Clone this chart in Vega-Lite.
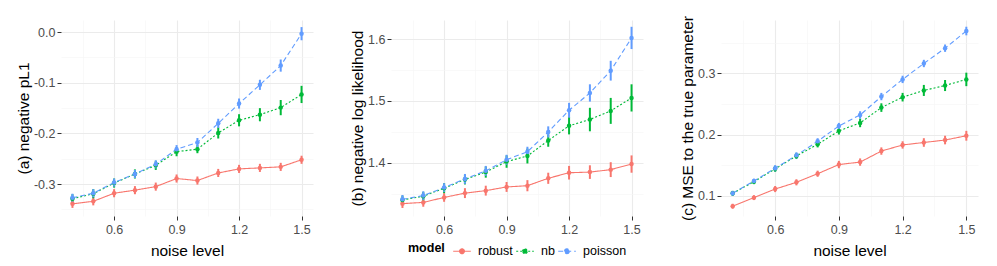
{
  "$schema": "https://vega.github.io/schema/vega-lite/v6.json",
  "padding": {"left": 16, "top": 15, "right": 5, "bottom": 0},
  "background": "white",
  "config": {
    "view": {"stroke": null},
    "font": "Liberation Sans",
    "axis": {
      "domain": false,
      "labelFont": "Liberation Sans",
      "labelFontSize": 12.5,
      "labelColor": "#4D4D4D",
      "titleFont": "Liberation Sans",
      "titleFontSize": 15.5,
      "titleFontWeight": "normal",
      "titleColor": "#000000",
      "tickColor": "#333333",
      "tickSize": 4,
      "tickWidth": 1,
      "labelPadding": 2,
      "titlePadding": 2,
      "labelOverlap": false,
      "labelFlush": false,
      "labelBound": false,
      "gridColor": {"condition": {"test": "abs(datum.value*10-round(datum.value*10))<0.01", "value": "#EBEBEB"}, "value": "#F5F5F5"},
      "gridWidth": {"condition": {"test": "abs(datum.value*10-round(datum.value*10))<0.01", "value": 1.1}, "value": 0.6},
      "tickOpacity": {"condition": {"test": "abs(datum.value*10-round(datum.value*10))<0.01", "value": 1}, "value": 0},
      "labelExpr": "abs(datum.value*10-round(datum.value*10))<0.01 ? (datum.value < -0.001 ? '-' : '') + format(abs(datum.value), '.1f') : ''"
    },
    "axisX": {"titlePadding": 8, "labelPadding": 3},
    "legend": {
      "labelFont": "Liberation Sans",
      "labelFontSize": 12.5,
      "labelColor": "#000000",
      "titleFont": "Liberation Sans",
      "titleFontSize": 12.5,
      "titleFontWeight": "bold",
      "titleColor": "#000000"
    }
  },
  "datasets": {
    "d": [
      {"panel":"a","noise":0.4,"model":"robust","y":-0.339,"lo":-0.347,"hi":-0.331},
      {"panel":"a","noise":0.5,"model":"robust","y":-0.334,"lo":-0.342,"hi":-0.326},
      {"panel":"a","noise":0.6,"model":"robust","y":-0.318,"lo":-0.326,"hi":-0.310},
      {"panel":"a","noise":0.7,"model":"robust","y":-0.312,"lo":-0.320,"hi":-0.304},
      {"panel":"a","noise":0.8,"model":"robust","y":-0.305,"lo":-0.313,"hi":-0.297},
      {"panel":"a","noise":0.9,"model":"robust","y":-0.289,"lo":-0.297,"hi":-0.281},
      {"panel":"a","noise":1.0,"model":"robust","y":-0.293,"lo":-0.301,"hi":-0.285},
      {"panel":"a","noise":1.1,"model":"robust","y":-0.278,"lo":-0.286,"hi":-0.270},
      {"panel":"a","noise":1.2,"model":"robust","y":-0.270,"lo":-0.278,"hi":-0.262},
      {"panel":"a","noise":1.3,"model":"robust","y":-0.268,"lo":-0.276,"hi":-0.260},
      {"panel":"a","noise":1.4,"model":"robust","y":-0.266,"lo":-0.274,"hi":-0.258},
      {"panel":"a","noise":1.5,"model":"robust","y":-0.252,"lo":-0.260,"hi":-0.244},
      {"panel":"a","noise":0.4,"model":"nb","y":-0.329,"lo":-0.338,"hi":-0.320},
      {"panel":"a","noise":0.5,"model":"nb","y":-0.319,"lo":-0.328,"hi":-0.310},
      {"panel":"a","noise":0.6,"model":"nb","y":-0.298,"lo":-0.307,"hi":-0.289},
      {"panel":"a","noise":0.7,"model":"nb","y":-0.280,"lo":-0.289,"hi":-0.271},
      {"panel":"a","noise":0.8,"model":"nb","y":-0.263,"lo":-0.272,"hi":-0.254},
      {"panel":"a","noise":0.9,"model":"nb","y":-0.236,"lo":-0.245,"hi":-0.227},
      {"panel":"a","noise":1.0,"model":"nb","y":-0.231,"lo":-0.239,"hi":-0.223},
      {"panel":"a","noise":1.1,"model":"nb","y":-0.199,"lo":-0.210,"hi":-0.188},
      {"panel":"a","noise":1.2,"model":"nb","y":-0.174,"lo":-0.186,"hi":-0.162},
      {"panel":"a","noise":1.3,"model":"nb","y":-0.163,"lo":-0.176,"hi":-0.150},
      {"panel":"a","noise":1.4,"model":"nb","y":-0.149,"lo":-0.164,"hi":-0.134},
      {"panel":"a","noise":1.5,"model":"nb","y":-0.123,"lo":-0.140,"hi":-0.106},
      {"panel":"a","noise":0.4,"model":"poisson","y":-0.327,"lo":-0.335,"hi":-0.319},
      {"panel":"a","noise":0.5,"model":"poisson","y":-0.318,"lo":-0.326,"hi":-0.310},
      {"panel":"a","noise":0.6,"model":"poisson","y":-0.297,"lo":-0.305,"hi":-0.289},
      {"panel":"a","noise":0.7,"model":"poisson","y":-0.280,"lo":-0.288,"hi":-0.272},
      {"panel":"a","noise":0.8,"model":"poisson","y":-0.261,"lo":-0.269,"hi":-0.253},
      {"panel":"a","noise":0.9,"model":"poisson","y":-0.231,"lo":-0.239,"hi":-0.223},
      {"panel":"a","noise":1.0,"model":"poisson","y":-0.218,"lo":-0.227,"hi":-0.209},
      {"panel":"a","noise":1.1,"model":"poisson","y":-0.180,"lo":-0.189,"hi":-0.171},
      {"panel":"a","noise":1.2,"model":"poisson","y":-0.141,"lo":-0.151,"hi":-0.131},
      {"panel":"a","noise":1.3,"model":"poisson","y":-0.104,"lo":-0.114,"hi":-0.094},
      {"panel":"a","noise":1.4,"model":"poisson","y":-0.066,"lo":-0.078,"hi":-0.054},
      {"panel":"a","noise":1.5,"model":"poisson","y":-0.003,"lo":-0.016,"hi":0.010},
      {"panel":"b","noise":0.4,"model":"robust","y":1.334,"lo":1.327,"hi":1.341},
      {"panel":"b","noise":0.5,"model":"robust","y":1.336,"lo":1.329,"hi":1.343},
      {"panel":"b","noise":0.6,"model":"robust","y":1.344,"lo":1.337,"hi":1.351},
      {"panel":"b","noise":0.7,"model":"robust","y":1.351,"lo":1.343,"hi":1.359},
      {"panel":"b","noise":0.8,"model":"robust","y":1.355,"lo":1.347,"hi":1.363},
      {"panel":"b","noise":0.9,"model":"robust","y":1.361,"lo":1.353,"hi":1.369},
      {"panel":"b","noise":1.0,"model":"robust","y":1.363,"lo":1.354,"hi":1.372},
      {"panel":"b","noise":1.1,"model":"robust","y":1.375,"lo":1.366,"hi":1.384},
      {"panel":"b","noise":1.2,"model":"robust","y":1.384,"lo":1.373,"hi":1.395},
      {"panel":"b","noise":1.3,"model":"robust","y":1.385,"lo":1.374,"hi":1.396},
      {"panel":"b","noise":1.4,"model":"robust","y":1.389,"lo":1.377,"hi":1.401},
      {"panel":"b","noise":1.5,"model":"robust","y":1.398,"lo":1.384,"hi":1.412},
      {"panel":"b","noise":0.4,"model":"nb","y":1.340,"lo":1.333,"hi":1.347},
      {"panel":"b","noise":0.5,"model":"nb","y":1.346,"lo":1.339,"hi":1.353},
      {"panel":"b","noise":0.6,"model":"nb","y":1.359,"lo":1.351,"hi":1.367},
      {"panel":"b","noise":0.7,"model":"nb","y":1.373,"lo":1.365,"hi":1.381},
      {"panel":"b","noise":0.8,"model":"nb","y":1.385,"lo":1.376,"hi":1.394},
      {"panel":"b","noise":0.9,"model":"nb","y":1.402,"lo":1.392,"hi":1.412},
      {"panel":"b","noise":1.0,"model":"nb","y":1.411,"lo":1.399,"hi":1.423},
      {"panel":"b","noise":1.1,"model":"nb","y":1.436,"lo":1.426,"hi":1.446},
      {"panel":"b","noise":1.2,"model":"nb","y":1.460,"lo":1.446,"hi":1.474},
      {"panel":"b","noise":1.3,"model":"nb","y":1.470,"lo":1.451,"hi":1.489},
      {"panel":"b","noise":1.4,"model":"nb","y":1.484,"lo":1.463,"hi":1.505},
      {"panel":"b","noise":1.5,"model":"nb","y":1.505,"lo":1.483,"hi":1.527},
      {"panel":"b","noise":0.4,"model":"poisson","y":1.341,"lo":1.334,"hi":1.348},
      {"panel":"b","noise":0.5,"model":"poisson","y":1.347,"lo":1.340,"hi":1.354},
      {"panel":"b","noise":0.6,"model":"poisson","y":1.360,"lo":1.353,"hi":1.367},
      {"panel":"b","noise":0.7,"model":"poisson","y":1.374,"lo":1.366,"hi":1.382},
      {"panel":"b","noise":0.8,"model":"poisson","y":1.387,"lo":1.379,"hi":1.395},
      {"panel":"b","noise":0.9,"model":"poisson","y":1.405,"lo":1.397,"hi":1.413},
      {"panel":"b","noise":1.0,"model":"poisson","y":1.418,"lo":1.410,"hi":1.426},
      {"panel":"b","noise":1.1,"model":"poisson","y":1.450,"lo":1.441,"hi":1.459},
      {"panel":"b","noise":1.2,"model":"poisson","y":1.485,"lo":1.473,"hi":1.497},
      {"panel":"b","noise":1.3,"model":"poisson","y":1.513,"lo":1.499,"hi":1.527},
      {"panel":"b","noise":1.4,"model":"poisson","y":1.549,"lo":1.533,"hi":1.565},
      {"panel":"b","noise":1.5,"model":"poisson","y":1.602,"lo":1.584,"hi":1.620},
      {"panel":"c","noise":0.4,"model":"robust","y":0.083,"lo":0.079,"hi":0.087},
      {"panel":"c","noise":0.5,"model":"robust","y":0.097,"lo":0.093,"hi":0.101},
      {"panel":"c","noise":0.6,"model":"robust","y":0.111,"lo":0.106,"hi":0.116},
      {"panel":"c","noise":0.7,"model":"robust","y":0.122,"lo":0.117,"hi":0.127},
      {"panel":"c","noise":0.8,"model":"robust","y":0.136,"lo":0.131,"hi":0.141},
      {"panel":"c","noise":0.9,"model":"robust","y":0.151,"lo":0.145,"hi":0.157},
      {"panel":"c","noise":1.0,"model":"robust","y":0.155,"lo":0.149,"hi":0.161},
      {"panel":"c","noise":1.1,"model":"robust","y":0.173,"lo":0.167,"hi":0.179},
      {"panel":"c","noise":1.2,"model":"robust","y":0.183,"lo":0.177,"hi":0.189},
      {"panel":"c","noise":1.3,"model":"robust","y":0.187,"lo":0.180,"hi":0.194},
      {"panel":"c","noise":1.4,"model":"robust","y":0.191,"lo":0.184,"hi":0.198},
      {"panel":"c","noise":1.5,"model":"robust","y":0.198,"lo":0.190,"hi":0.206},
      {"panel":"c","noise":0.4,"model":"nb","y":0.104,"lo":0.100,"hi":0.108},
      {"panel":"c","noise":0.5,"model":"nb","y":0.123,"lo":0.119,"hi":0.127},
      {"panel":"c","noise":0.6,"model":"nb","y":0.144,"lo":0.139,"hi":0.149},
      {"panel":"c","noise":0.7,"model":"nb","y":0.165,"lo":0.160,"hi":0.170},
      {"panel":"c","noise":0.8,"model":"nb","y":0.184,"lo":0.179,"hi":0.189},
      {"panel":"c","noise":0.9,"model":"nb","y":0.206,"lo":0.200,"hi":0.212},
      {"panel":"c","noise":1.0,"model":"nb","y":0.219,"lo":0.212,"hi":0.226},
      {"panel":"c","noise":1.1,"model":"nb","y":0.244,"lo":0.237,"hi":0.251},
      {"panel":"c","noise":1.2,"model":"nb","y":0.261,"lo":0.254,"hi":0.268},
      {"panel":"c","noise":1.3,"model":"nb","y":0.272,"lo":0.263,"hi":0.281},
      {"panel":"c","noise":1.4,"model":"nb","y":0.280,"lo":0.271,"hi":0.289},
      {"panel":"c","noise":1.5,"model":"nb","y":0.290,"lo":0.279,"hi":0.301},
      {"panel":"c","noise":0.4,"model":"poisson","y":0.104,"lo":0.100,"hi":0.108},
      {"panel":"c","noise":0.5,"model":"poisson","y":0.124,"lo":0.120,"hi":0.128},
      {"panel":"c","noise":0.6,"model":"poisson","y":0.145,"lo":0.140,"hi":0.150},
      {"panel":"c","noise":0.7,"model":"poisson","y":0.166,"lo":0.161,"hi":0.171},
      {"panel":"c","noise":0.8,"model":"poisson","y":0.189,"lo":0.184,"hi":0.194},
      {"panel":"c","noise":0.9,"model":"poisson","y":0.214,"lo":0.209,"hi":0.219},
      {"panel":"c","noise":1.0,"model":"poisson","y":0.232,"lo":0.226,"hi":0.238},
      {"panel":"c","noise":1.1,"model":"poisson","y":0.262,"lo":0.256,"hi":0.268},
      {"panel":"c","noise":1.2,"model":"poisson","y":0.290,"lo":0.284,"hi":0.296},
      {"panel":"c","noise":1.3,"model":"poisson","y":0.316,"lo":0.310,"hi":0.322},
      {"panel":"c","noise":1.4,"model":"poisson","y":0.341,"lo":0.335,"hi":0.347},
      {"panel":"c","noise":1.5,"model":"poisson","y":0.369,"lo":0.362,"hi":0.376}
    ]
  },
  "spacing": 78,
  "bounds": "flush",
  "resolve": {"scale": {"color": "independent", "strokeDash": "independent"}, "legend": {"color": "independent", "strokeDash": "independent"}},
  "hconcat": [
    {
      "width": 252, "height": 196,
      "data": {"name": "d"},
      "transform": [{"filter": "datum.panel === 'a'"}],
      "encoding": {
        "x": {"field": "noise", "type": "quantitative", "scale": {"domain": [0.345, 1.555], "nice": false, "zero": false},
              "axis": {"title": "noise level", "values": [0.45, 0.6, 0.75, 0.9, 1.05, 1.2, 1.35, 1.5]}},
        "y": {"field": "y", "type": "quantitative", "scale": {"domain": [-0.363, 0.024], "nice": false, "zero": false},
              "axis": {"orient": "left", "title": "(a) negative pL1", "values": [-0.35, -0.3, -0.25, -0.2, -0.15, -0.1, -0.05, 0]}},
        "color": {"field": "model", "type": "nominal", "scale": {"domain": ["robust", "nb", "poisson"], "range": ["#F8766D", "#00BA38", "#619CFF"]}, "legend": null}
      },
      "layer": [
        {"mark": {"type": "rule", "strokeWidth": 2},
         "encoding": {"y": {"field": "lo", "type": "quantitative"}, "y2": {"field": "hi"}}},
        {"mark": {"type": "line", "strokeWidth": 1.1},
         "encoding": {"strokeDash": {"field": "model", "type": "nominal", "scale": {"domain": ["robust", "nb", "poisson"], "range": [[1, 0], [2, 2], [5, 3]]}, "legend": null}}},
        {"mark": {"type": "point", "filled": true, "opacity": 1, "size": 20}, "encoding": {}}
      ]
    },
    {
      "width": 252, "height": 196,
      "data": {"name": "d"},
      "transform": [{"filter": "datum.panel === 'b'"}],
      "encoding": {
        "x": {"field": "noise", "type": "quantitative", "scale": {"domain": [0.345, 1.555], "nice": false, "zero": false},
              "axis": {"title": null, "values": [0.45, 0.6, 0.75, 0.9, 1.05, 1.2, 1.35, 1.5]}},
        "y": {"field": "y", "type": "quantitative", "scale": {"domain": [1.314, 1.631], "nice": false, "zero": false},
              "axis": {"orient": "left", "title": "(b) negative log likelihood", "values": [1.35, 1.4, 1.45, 1.5, 1.55, 1.6]}},
        "color": {"field": "model", "type": "nominal", "title": "model",
                  "scale": {"domain": ["robust", "nb", "poisson"], "range": ["#F8766D", "#00BA38", "#619CFF"]},
                  "legend": {"orient": "none", "legendX": 17, "legendY": 219, "direction": "horizontal", "titleOrient": "left", "titleBaseline": "middle",
                             "symbolType": "M-0.8,0H0.8M-0.22,0A0.22,0.22 0 1,1 0.22,0A0.22,0.22 0 1,1 -0.22,0", "symbolSize": 484, "symbolStrokeWidth": 1.1,
                             "columnPadding": 0, "labelOffset": 4, "titlePadding": 5}}
      },
      "layer": [
        {"mark": {"type": "rule", "strokeWidth": 2},
         "encoding": {"y": {"field": "lo", "type": "quantitative"}, "y2": {"field": "hi"}}},
        {"mark": {"type": "line", "strokeWidth": 1.1},
         "encoding": {"strokeDash": {"field": "model", "type": "nominal", "title": "model", "scale": {"domain": ["robust", "nb", "poisson"], "range": [[1, 0], [2, 2], [5, 3]]}}}},
        {"mark": {"type": "point", "filled": true, "opacity": 1, "size": 20}, "encoding": {}}
      ]
    },
    {
      "width": 257, "height": 196,
      "data": {"name": "d"},
      "transform": [{"filter": "datum.panel === 'c'"}],
      "encoding": {
        "x": {"field": "noise", "type": "quantitative", "scale": {"domain": [0.345, 1.555], "nice": false, "zero": false},
              "axis": {"title": "noise level", "values": [0.45, 0.6, 0.75, 0.9, 1.05, 1.2, 1.35, 1.5]}},
        "y": {"field": "y", "type": "quantitative", "scale": {"domain": [0.067, 0.387], "nice": false, "zero": false},
              "axis": {"orient": "left", "title": "(c) MSE to the true parameter", "values": [0.1, 0.15, 0.2, 0.25, 0.3, 0.35]}},
        "color": {"field": "model", "type": "nominal", "scale": {"domain": ["robust", "nb", "poisson"], "range": ["#F8766D", "#00BA38", "#619CFF"]}, "legend": null}
      },
      "layer": [
        {"mark": {"type": "rule", "strokeWidth": 2},
         "encoding": {"y": {"field": "lo", "type": "quantitative"}, "y2": {"field": "hi"}}},
        {"mark": {"type": "line", "strokeWidth": 1.1},
         "encoding": {"strokeDash": {"field": "model", "type": "nominal", "scale": {"domain": ["robust", "nb", "poisson"], "range": [[1, 0], [2, 2], [5, 3]]}, "legend": null}}},
        {"mark": {"type": "point", "filled": true, "opacity": 1, "size": 20}, "encoding": {}}
      ]
    }
  ]
}
